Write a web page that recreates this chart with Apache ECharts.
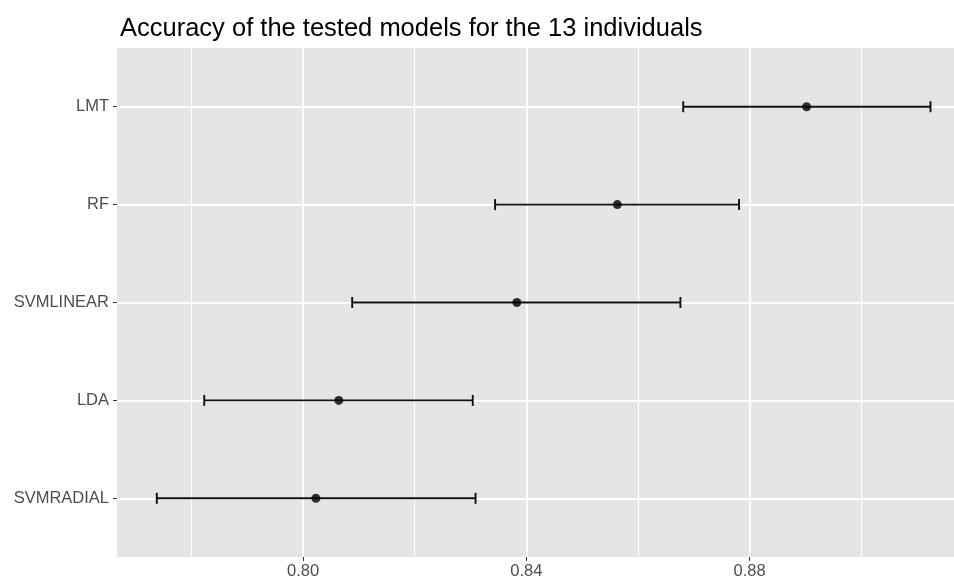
<!DOCTYPE html>
<html>
<head>
<meta charset="utf-8">
<script src="https://cdn.jsdelivr.net/npm/echarts@6/dist/echarts.min.js"></script>
<style>html,body{margin:0;padding:0;background:#fff;}#c{width:954px;height:586px;}</style>
</head>
<body>
<div id="c"></div>
<script>
// Models, bottom to top
const models = ['SVMRADIAL', 'LDA', 'SVMLINEAR', 'RF', 'LMT'];
const accMean = [0.8023, 0.8064, 0.8383, 0.8563, 0.8902];
const accLow  = [0.7738, 0.7823, 0.8088, 0.8344, 0.8681];
const accHigh = [0.8309, 0.8304, 0.8676, 0.8781, 0.9124];
const xTicks = [0.80, 0.84, 0.88];
const xMinor = [0.78, 0.82, 0.86, 0.90];
const yTicks = [1, 2, 3, 4, 5];

const chart = echarts.init(document.getElementById('c'));
const lbl = {color: '#4D4D4D', fontFamily: 'Liberation Sans, Arial, sans-serif', fontSize: 16.5};

chart.setOption({
  animation: false,
  title: {
    text: 'Accuracy of the tested models for the 13 individuals',
    left: 115, top: 11,
    textStyle: {fontFamily: 'Liberation Sans, Arial, sans-serif', fontSize: 25.5, fontWeight: 'normal', color: '#000'}
  },
  grid: {left: 117, right: 0, top: 48, bottom: 29, show: true, backgroundColor: '#E5E5E5', borderWidth: 0},
  xAxis: {
    type: 'value', min: 0.76667, max: 0.91661,
    axisLine: {show: false},
    axisTick: {show: true, length: 4, lineStyle: {color: '#333', width: 1}, customValues: xTicks},
    axisLabel: Object.assign({}, lbl, {customValues: xTicks, margin: 6, formatter: v => v.toFixed(2)}),
    splitLine: {show: true, lineStyle: {color: '#fff', width: 1.8}}
  },
  yAxis: {
    type: 'value', min: 0.4, max: 5.6,
    axisLine: {show: false},
    axisTick: {show: true, length: 4, lineStyle: {color: '#333', width: 1}, customValues: yTicks},
    axisLabel: Object.assign({}, lbl, {customValues: yTicks, margin: 8, formatter: v => models[Math.round(v) - 1] || ''}),
    splitLine: {show: true, lineStyle: {color: '#fff', width: 1.8}}
  },
  series: [
    {
      type: 'custom',
      z: 3,
      data: models.map((m, i) => [accLow[i], accHigh[i], i + 1]),
      encode: {x: [0, 1], y: 2},
      renderItem: function (params, api) {
        const y = api.value(2);
        const p0 = api.coord([api.value(0), y]);
        const p1 = api.coord([api.value(1), y]);
        const h = 5.5;
        const st = {stroke: '#111', lineWidth: 1.9};
        return {
          type: 'group',
          children: [
            {type: 'line', shape: {x1: p0[0], y1: p0[1], x2: p1[0], y2: p1[1]}, style: st},
            {type: 'line', shape: {x1: p0[0], y1: p0[1] - h, x2: p0[0], y2: p0[1] + h}, style: st},
            {type: 'line', shape: {x1: p1[0], y1: p1[1] - h, x2: p1[0], y2: p1[1] + h}, style: st}
          ]
        };
      },
      markLine: {
        silent: true, z: 1, symbol: 'none', animation: false,
        label: {show: false},
        lineStyle: {color: '#fff', width: 1, type: 'solid', opacity: 1},
        emphasis: {disabled: true},
        data: xMinor.map(v => ({xAxis: v}))
      }
    },
    {
      type: 'scatter',
      z: 4,
      symbol: 'circle', symbolSize: 9,
      itemStyle: {color: '#000'},
      data: models.map((m, i) => [accMean[i], i + 1])
    }
  ]
});
</script>
</body>
</html>
